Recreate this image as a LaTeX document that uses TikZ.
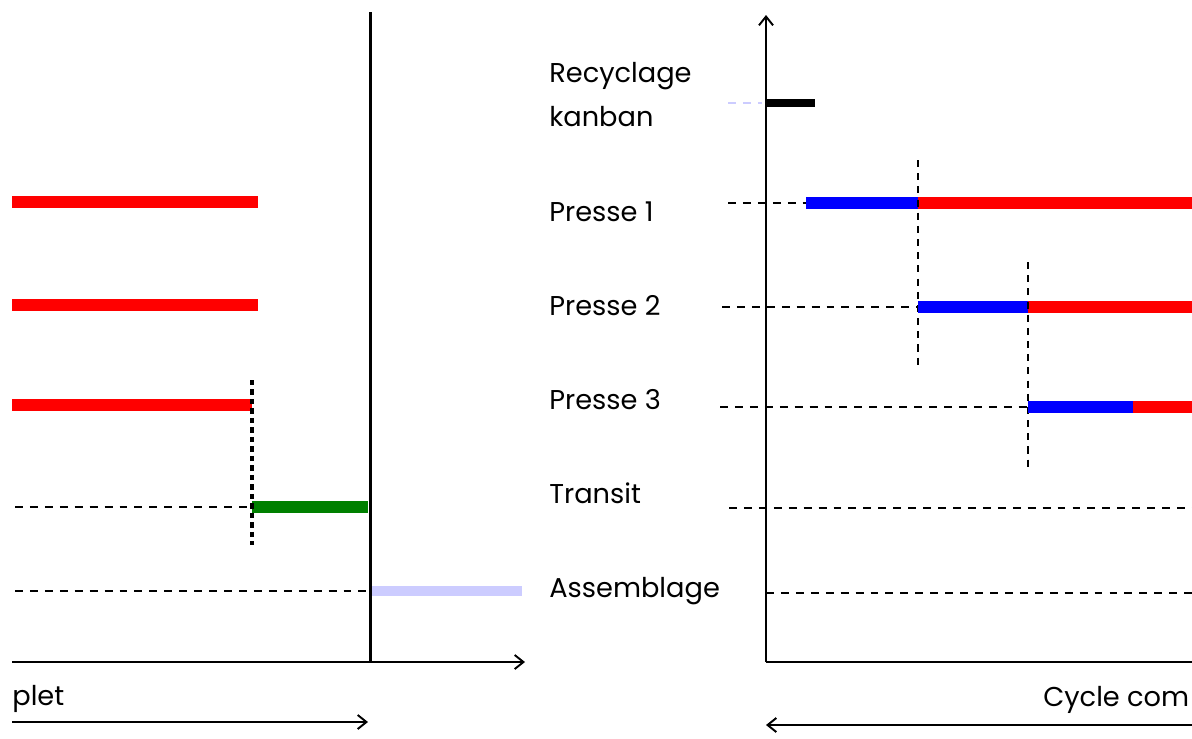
\documentclass[tikz,border=0pt]{standalone}
\usepackage{fontspec}
\setmainfont{Poppins}
\usepackage{tikz}
\usetikzlibrary{arrows.meta}
\definecolor{barred}{RGB}{255,0,0}
\definecolor{barblue}{RGB}{0,0,255}
\definecolor{bargreen}{RGB}{0,128,0}
\definecolor{barlav}{RGB}{204,204,255}

\begin{document}
\begin{tikzpicture}[x=0.02cm, y=-0.02cm,
    bar/.style={line width=6.8pt},
    guide/.style={line width=0.6pt, dash pattern=on 4.5pt off 4pt},
    mark line/.style={line width=0.6pt, dash pattern=on 4pt off 3.5pt},
    axis/.style={line width=1.1pt, -{Straight Barb[length=5pt, width=8pt]}},
    label/.style={anchor=base west, font=\fontsize{15.5}{18}\selectfont, inner sep=0pt}]
  \useasboundingbox (0,0) rectangle (1192,738);

  % Left: end of the previous cycle
  \draw[bar, barred] (12,202) -- (258,202);
  \draw[bar, barred] (12,305) -- (258,305);
  \draw[bar, barred] (12,405) -- (252,405);
  \draw[guide] (15,507) -- (252,507);
  \draw[bar, bargreen] (252,507) -- (368,507);
  \draw[line width=2pt, dash pattern=on 3pt off 2.4pt] (252,380) -- (252,545);
  \draw[guide] (15,591) -- (368,591);
  \draw[line width=5.6pt, barlav] (370,591) -- (522,591);
  \draw[line width=1.7pt] (370,12) -- (370,662);
  \draw[axis] (12,662) -- (525,662);
  \node[label] (plet) at (12,705) {plet};
  \draw[axis] (12,722) -- (368,722);

  % Right: row labels
  \node[label] (recyc) at (549,82) {Recyclage};
  \node[label] (kanban) at (549,126) {kanban};
  \node[label] (p1) at (549,221) {Presse 1};
  \node[label] (p2) at (549,315) {Presse 2};
  \node[label] (p3) at (549,409) {Presse 3};
  \node[label] (transit) at (549,503) {Transit};
  \node[label] (assemb) at (549,597) {Assemblage};

  % Right: axes
  \draw[axis] (766,662) -- (766,15);
  \draw[line width=1.1pt] (766,662) -- (1192,662);

  % Recyclage kanban
  \draw[guide, barlav] (728,103) -- (762,103);
  \draw[line width=4.5pt] (766,103) -- (815,103);

  % Presse 1
  \draw[guide] (728,203) -- (810,203);
  \draw[bar, barblue] (806,203) -- (918,203);
  \draw[bar, barred] (918,203) -- (1192,203);
  \draw[mark line] (918,160) -- (918,365);

  % Presse 2
  \draw[guide] (722,307) -- (918,307);
  \draw[bar, barblue] (918,307) -- (1028,307);
  \draw[bar, barred] (1028,307) -- (1192,307);
  \draw[mark line] (1028,262) -- (1028,468);

  % Presse 3
  \draw[guide] (720,407) -- (1028,407);
  \draw[bar, barblue] (1028,407) -- (1133,407);
  \draw[bar, barred] (1133,407) -- (1192,407);

  % Transit, Assemblage
  \draw[guide] (729,508) -- (1192,508);
  \draw[guide] (766,593) -- (1192,593);

  % Cycle arrow
  \node[label] (cycle) at (1043,706) {Cycle com};
  \draw[axis] (1192,725) -- (766,725);
\end{tikzpicture}
\end{document}
